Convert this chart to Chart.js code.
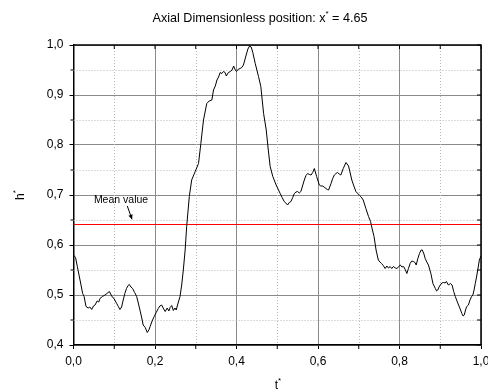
<!DOCTYPE html>
<html><head><meta charset="utf-8">
<script src="https://cdn.jsdelivr.net/npm/chart.js@4/dist/chart.umd.min.js"></script>
<style>html,body{margin:0;padding:0;background:#fff}#wrap{width:488px;height:392px}</style>
</head><body><div id="wrap"><canvas id="c" width="488" height="392"></canvas></div>
<script>
const T = [0.000,0.005,0.0094,0.016,0.0225,0.026,0.0307,0.036,0.040,0.0446,0.049,0.0528,0.058,0.062,0.065,0.071,0.0773,0.082,0.088,0.0937,0.100,0.106,0.110,0.114,0.118,0.122,0.126,0.130,0.134,0.137,0.141,0.145,0.150,0.155,0.159,0.163,0.167,0.171,0.176,0.181,0.185,0.188,0.193,0.198,0.203,0.208,0.212,0.2164,0.220,0.225,0.230,0.234,0.237,0.241,0.245,0.249,0.252,0.256,0.2614,0.2655,0.2695,0.274,0.2777,0.2842,0.290,0.2986,0.3068,0.3125,0.319,0.327,0.333,0.3395,0.3436,0.348,0.352,0.356,0.360,0.364,0.368,0.372,0.375,0.380,0.385,0.389,0.393,0.397,0.400,0.405,0.409,0.413,0.417,0.4237,0.428,0.432,0.436,0.440,0.446,0.454,0.4597,0.4665,0.473,0.478,0.4826,0.4891,0.4973,0.5072,0.512,0.517,0.521,0.5254,0.5295,0.5336,0.538,0.5418,0.546,0.550,0.554,0.558,0.562,0.5664,0.5705,0.5746,0.579,0.583,0.587,0.591,0.5967,0.6032,0.607,0.611,0.615,0.6195,0.623,0.626,0.632,0.636,0.640,0.644,0.648,0.652,0.656,0.662,0.6686,0.675,0.683,0.688,0.693,0.701,0.706,0.711,0.7175,0.724,0.729,0.733,0.7375,0.7425,0.748,0.752,0.756,0.760,0.7648,0.769,0.773,0.777,0.781,0.785,0.790,0.794,0.798,0.802,0.806,0.810,0.814,0.818,0.822,0.826,0.830,0.834,0.838,0.841,0.845,0.849,0.853,0.856,0.860,0.863,0.867,0.871,0.877,0.882,0.888,0.891,0.894,0.897,0.900,0.904,0.908,0.912,0.915,0.920,0.925,0.929,0.933,0.937,0.941,0.945,0.949,0.953,0.956,0.959,0.962,0.965,0.969,0.973,0.977,0.980,0.983,0.986,0.989,0.992,0.996,1.000];
const H = [0.580,0.575,0.557,0.530,0.503,0.497,0.477,0.474,0.476,0.471,0.478,0.480,0.488,0.486,0.493,0.497,0.500,0.503,0.507,0.498,0.492,0.483,0.477,0.471,0.476,0.490,0.503,0.513,0.519,0.521,0.516,0.513,0.505,0.497,0.484,0.470,0.456,0.440,0.435,0.425,0.430,0.437,0.448,0.457,0.465,0.473,0.478,0.480,0.474,0.467,0.474,0.468,0.475,0.479,0.469,0.474,0.470,0.482,0.497,0.520,0.550,0.590,0.637,0.697,0.730,0.747,0.763,0.803,0.850,0.883,0.888,0.890,0.910,0.918,0.930,0.936,0.945,0.943,0.947,0.945,0.938,0.945,0.947,0.950,0.958,0.950,0.947,0.952,0.953,0.955,0.960,0.980,0.992,0.998,0.996,0.985,0.963,0.937,0.917,0.863,0.830,0.790,0.757,0.737,0.720,0.703,0.695,0.687,0.684,0.680,0.685,0.687,0.695,0.703,0.706,0.707,0.704,0.707,0.718,0.730,0.739,0.743,0.741,0.740,0.745,0.753,0.737,0.720,0.718,0.718,0.716,0.713,0.711,0.710,0.723,0.733,0.740,0.743,0.745,0.742,0.740,0.753,0.765,0.758,0.730,0.718,0.707,0.700,0.696,0.690,0.673,0.657,0.647,0.632,0.617,0.590,0.570,0.566,0.563,0.559,0.553,0.558,0.554,0.557,0.553,0.557,0.554,0.553,0.557,0.560,0.556,0.557,0.551,0.543,0.553,0.563,0.568,0.567,0.565,0.560,0.573,0.583,0.590,0.590,0.582,0.573,0.566,0.560,0.543,0.523,0.513,0.508,0.510,0.516,0.520,0.524,0.525,0.524,0.527,0.520,0.523,0.520,0.507,0.497,0.488,0.480,0.472,0.463,0.458,0.460,0.470,0.477,0.480,0.490,0.497,0.500,0.510,0.523,0.536,0.550,0.570,0.578];
const MEAN = 0.641;
const X_TICK_LABELS = ['0,0','0,2','0,4','0,6','0,8','1,0'];
const Y_TICK_LABELS = ['0,4','0,5','0,6','0,7','0,8','0,9','1,0'];
const X_MINOR = [0.1,0.3,0.5,0.7,0.9];
const Y_MINOR = [0.45,0.55,0.65,0.75,0.85,0.95];
const X_ALL = [0,0.1,0.2,0.3,0.4,0.5,0.6,0.7,0.8,0.9,1.0];
const Y_ALL = [0.4,0.45,0.5,0.55,0.6,0.65,0.7,0.75,0.8,0.85,0.9,0.95,1.0];

const FONT = '"Liberation Sans", Arial, sans-serif';

function supText(ctx, parts, x, y, align, size) {
  let w = 0;
  parts.forEach(p => { ctx.font = (p[1] ? '8px ' : size + 'px ') + FONT; w += ctx.measureText(p[0]).width; });
  let cx = align === 'center' ? x - w / 2 : x;
  ctx.textAlign = 'left';
  ctx.textBaseline = 'alphabetic';
  parts.forEach(p => {
    ctx.font = (p[1] ? '8px ' : size + 'px ') + FONT;
    ctx.fillText(p[0], cx, p[1] ? y - 6 : y);
    cx += ctx.measureText(p[0]).width;
  });
}

const deco = {
  id: 'deco',
  beforeDatasetsDraw(chart) {
    const {ctx, chartArea: a, scales: {x, y}} = chart;
    ctx.save();
    ctx.strokeStyle = '#b8b8b8';
    ctx.lineWidth = 1;
    ctx.setLineDash([1, 2]);
    X_MINOR.forEach(v => { const px = Math.round(x.getPixelForValue(v)) + 0.5; ctx.beginPath(); ctx.moveTo(px, a.top); ctx.lineTo(px, a.bottom); ctx.stroke(); });
    Y_MINOR.forEach(v => { const py = Math.round(y.getPixelForValue(v)) + 0.5; ctx.beginPath(); ctx.moveTo(a.left, py); ctx.lineTo(a.right, py); ctx.stroke(); });
    ctx.restore();
  },
  afterDraw(chart) {
    const {ctx, chartArea: a, scales: {x, y}} = chart;
    ctx.save();
    ctx.strokeStyle = '#000';
    ctx.lineWidth = 1.5;
    ctx.beginPath();
    ctx.moveTo(a.left, a.top); ctx.lineTo(a.right, a.top); ctx.lineTo(a.right, a.bottom);
    ctx.stroke();
    ctx.lineWidth = 1;
    X_ALL.forEach(v => { const px = x.getPixelForValue(v); ctx.beginPath(); ctx.moveTo(px, a.top); ctx.lineTo(px, a.top + 4); ctx.stroke(); });
    Y_ALL.forEach(v => { const py = y.getPixelForValue(v); ctx.beginPath(); ctx.moveTo(a.right, py); ctx.lineTo(a.right - 4, py); ctx.stroke(); });
    X_MINOR.forEach(v => { const px = x.getPixelForValue(v); ctx.beginPath(); ctx.moveTo(px, a.bottom); ctx.lineTo(px, a.bottom + 4); ctx.stroke(); });
    Y_MINOR.forEach(v => { const py = y.getPixelForValue(v); ctx.beginPath(); ctx.moveTo(a.left, py); ctx.lineTo(a.left - 3, py); ctx.stroke(); });

    ctx.fillStyle = '#000';
    supText(ctx, [['Axial Dimensionless position: x', false], ['*', true], [' = 4.65', false]], 260, 22, 'center', 12.6);
    supText(ctx, [['t', false], ['*', true]], 278, 389, 'center', 12);
    ctx.save();
    ctx.translate(24, 195);
    ctx.rotate(-Math.PI / 2);
    supText(ctx, [['h', false], ['*', true]], 0, 0, 'center', 12);
    ctx.restore();

    ctx.font = '10.5px ' + FONT;
    ctx.textAlign = 'left';
    ctx.textBaseline = 'alphabetic';
    ctx.fillText('Mean value', x.getPixelForValue(0.05), y.getPixelForValue(0.685));
    const x1 = x.getPixelForValue(0.132), y1 = y.getPixelForValue(0.678);
    const x2 = x.getPixelForValue(0.1436), y2 = y.getPixelForValue(0.6514);
    ctx.lineWidth = 1;
    ctx.beginPath(); ctx.moveTo(x1, y1); ctx.lineTo(x2, y2); ctx.stroke();
    const ang = Math.atan2(y2 - y1, x2 - x1);
    ctx.beginPath();
    ctx.moveTo(x2, y2);
    ctx.lineTo(x2 - 5 * Math.cos(ang - 0.45), y2 - 5 * Math.sin(ang - 0.45));
    ctx.lineTo(x2 - 5 * Math.cos(ang + 0.45), y2 - 5 * Math.sin(ang + 0.45));
    ctx.closePath(); ctx.fill();
    ctx.restore();
  }
};

new Chart(document.getElementById('c'), {
  type: 'line',
  data: {
    datasets: [
      { data: T.map((t, i) => ({x: t, y: H[i]})), borderColor: '#000', borderWidth: 1, pointRadius: 0, tension: 0, fill: false },
      { data: [{x: 0, y: MEAN}, {x: 1, y: MEAN}], borderColor: '#ff0000', borderWidth: 1.2, pointRadius: 0, fill: false }
    ]
  },
  options: {
    responsive: false,
    animation: false,
    devicePixelRatio: 1,
    layout: { padding: { top: 45, right: 7, left: 0, bottom: 0 } },
    plugins: { legend: { display: false }, tooltip: { enabled: false }, title: { display: false } },
    scales: {
      x: {
        type: 'linear', min: 0, max: 1, position: 'bottom',
        ticks: { stepSize: 0.2, padding: 5, color: '#000', font: { family: FONT, size: 12 }, maxRotation: 0,
          callback: (v, i) => X_TICK_LABELS[i] },
        grid: { color: '#8a8a8a', lineWidth: 1, drawTicks: true, tickLength: 4, tickColor: '#000' },
        border: { display: true, color: '#000', width: 1.5 },
        afterFit: s => { s.height = 47; s.paddingLeft = 0; s.paddingRight = 0; }
      },
      y: {
        type: 'linear', min: 0.4, max: 1.0, position: 'left',
        ticks: { stepSize: 0.1, padding: 6, color: '#000', font: { family: FONT, size: 12 },
          callback: (v, i) => Y_TICK_LABELS[i] },
        grid: { color: '#8a8a8a', lineWidth: 1, drawTicks: true, tickLength: 4, tickColor: '#000' },
        border: { display: true, color: '#000', width: 1.5 },
        afterFit: s => { s.width = 73.5; }
      }
    }
  },
  plugins: [deco]
});
</script></body></html>
